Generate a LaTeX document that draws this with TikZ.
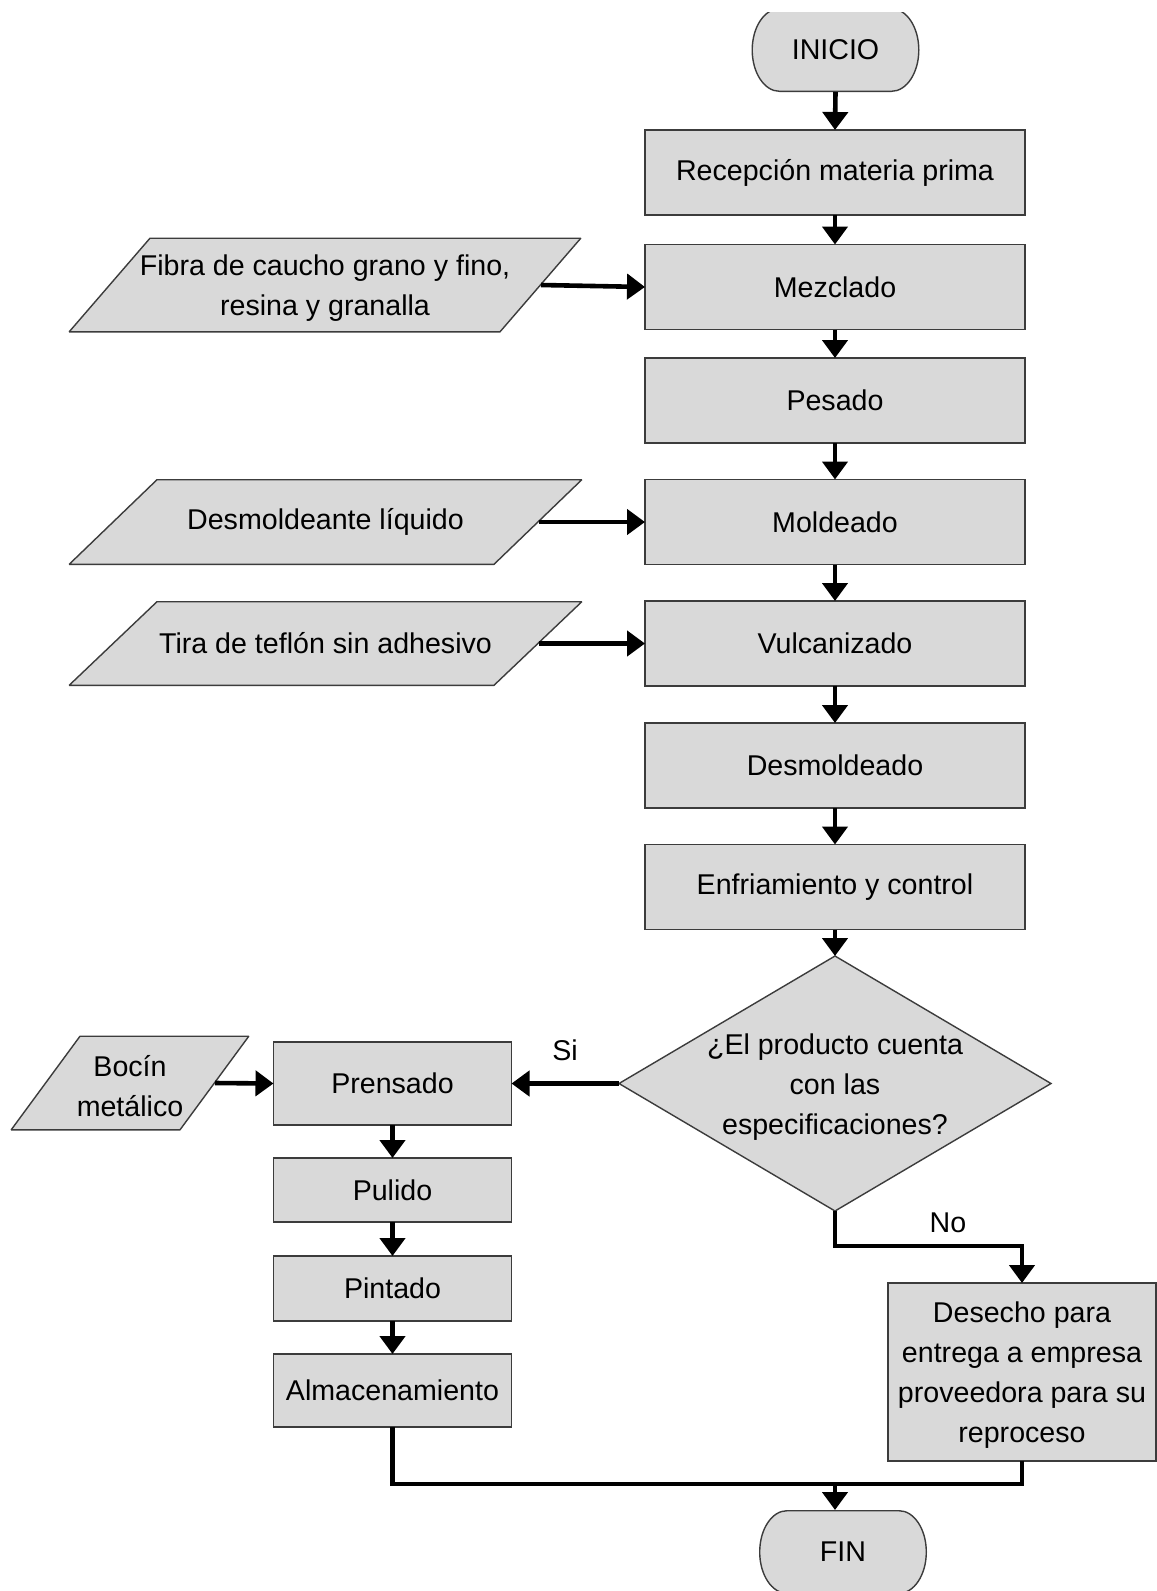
\documentclass[tikz,border=0pt]{standalone}
\usepackage{fontspec}
\setmainfont{Liberation Sans}
\usetikzlibrary{arrows.meta,shapes.geometric}
\definecolor{boxfill}{RGB}{217,217,217}
\definecolor{edge}{RGB}{60,60,60}
% taller first line, so stacked lines sit a little lower in their shape
\newcommand{\firstline}{\rule{0pt}{13.5pt}}
\begin{document}
\begin{tikzpicture}[x=0.5pt,y=-0.5pt,
  every node/.style={font=\fontsize{14.3pt}{20pt}\selectfont, text=black,
    inner sep=0pt, outer sep=0pt},
  box/.style={rectangle, draw=edge, fill=boxfill, line width=0.7pt, align=center},
  mainbox/.style={box, minimum width=190pt, minimum height=42.5pt},
  sidebox/.style={box, minimum width=119pt},
  % data symbol: a parallelogram leaning right, #1 is its horizontal slant
  inputbox/.style={rectangle, align=center,
    path picture={
      \filldraw[fill=boxfill, draw=edge, line width=0.7pt, line join=bevel]
        ([xshift=0.6pt,yshift=0.35pt]path picture bounding box.south west)
        -- ([xshift=#1,yshift=-0.35pt]path picture bounding box.north west)
        -- ([xshift=-0.6pt,yshift=-0.35pt]path picture bounding box.north east)
        -- ([xshift=-#1,yshift=0.35pt]path picture bounding box.south east)
        -- cycle;}},
  decision/.style={diamond, aspect=1.694, draw=edge, fill=boxfill,
    line width=0.7pt, align=center, inner sep=-4pt,
    minimum width=216pt, minimum height=127.5pt},
  term/.style={rectangle, minimum width=84pt, minimum height=42pt,
    path picture={
      \filldraw[fill=boxfill, draw=edge, line width=0.7pt]
        ([xshift=14pt,yshift=-0.35pt]path picture bounding box.north west)
        -- ([xshift=-14pt,yshift=-0.35pt]path picture bounding box.north east)
        arc[start angle=90, end angle=-90, x radius=13.65pt, y radius=20.65pt]
        -- ([xshift=14pt,yshift=0.35pt]path picture bounding box.south west)
        arc[start angle=270, end angle=90, x radius=13.65pt, y radius=20.65pt]
        -- cycle;}},
  flow/.style={line width=2.3pt, -{Triangle[width=12.5pt,length=9pt]}},
  link/.style={line width=2.3pt}
]
\path[use as bounding box, fill=white] (0,0) rectangle (1157,1591);

% start terminal, trimmed along the upper margin
\begin{scope}
  \clip (0,12) rectangle (1157,1591);
  \node[term] (ini) at (835.5,50) {INICIO};
\end{scope}

% main process column
\node[mainbox] (rec) at (835,172.5) {Recepción materia prima};
\node[mainbox] (mez) at (835,287) {Mezclado};
\node[mainbox] (pes) at (835,400.5) {Pesado};
\node[mainbox] (mol) at (835,522) {Moldeado};
\node[mainbox] (vul) at (835,643.5) {Vulcanizado};
\node[mainbox] (dsm) at (835,765.5) {Desmoldeado};
\node[mainbox] (enf) at (835,887) {Enfriamiento y control};
\node[decision] (dec) at (835,1083.5)
  {\firstline¿El producto cuenta\\con las\\especificaciones?};

% material inputs
\node[inputbox=41pt, minimum width=257pt, minimum height=47.5pt] (fib)
  at (325,285) {\firstline Fibra de caucho grano y fino,\\resina y granalla};
\node[inputbox=44.5pt, minimum width=257.5pt, minimum height=43pt] (dmo)
  at (325.5,522) {Desmoldeante líquido};
\node[inputbox=44.5pt, minimum width=257.5pt, minimum height=42.5pt] (tir)
  at (325.5,643.5) {Tira de teflón sin adhesivo};
\node[inputbox=35pt, minimum width=120pt, minimum height=47.5pt] (boc)
  at (130,1083) {\firstline Bocín\\metálico};

% accepted branch
\node[sidebox, minimum height=41.5pt] (pre) at (392.5,1083.5) {Prensado};
\node[sidebox, minimum height=32pt] (pul) at (392.5,1190) {Pulido};
\node[sidebox, minimum height=32.5pt] (pin) at (392.5,1288.5) {Pintado};
\node[sidebox, minimum height=36.5pt] (alm) at (392.5,1390.5) {Almacenamiento};

% rejected branch
\node[box, minimum width=134pt, minimum height=89pt] (des) at (1022,1372)
  {\firstline Desecho para\\entrega a empresa\\proveedora para su\\reproceso};

% end terminal
\node[term] (fin) at (843,1552) {FIN};

% branch labels
\node (si) at (565,1050) {Si};
\node (no) at (948,1223) {No};

% connectors
\draw[flow] (ini.south) -- (rec.north);
\draw[flow] (rec.south) -- (mez.north);
\draw[flow] (mez.south) -- (pes.north);
\draw[flow] (pes.south) -- (mol.north);
\draw[flow] (mol.south) -- (vul.north);
\draw[flow] (vul.south) -- (dsm.north);
\draw[flow] (dsm.south) -- (enf.north);
\draw[flow] (enf.south) -- (dec.north);

\draw[flow] ([xshift=-20.5pt]fib.east) -- (mez.west);
\draw[flow] ([xshift=-22.25pt]dmo.east) -- (mol.west);
\draw[flow] ([xshift=-22.25pt]tir.east) -- (vul.west);

\draw[flow] (dec.west) -- (pre.east);
\draw[flow] ([xshift=-17.5pt]boc.east) -- (pre.west);
\draw[flow] (pre.south) -- (pul.north);
\draw[flow] (pul.south) -- (pin.north);
\draw[flow] (pin.south) -- (alm.north);

\draw[flow] (dec.south) -- ++(0,35) -| (des.north);

\coordinate (join) at (835,1484);
\draw[link] (alm.south) |- (join) -| (des.south);
\draw[flow] (join) -- (join |- fin.north);
\end{tikzpicture}
\end{document}
